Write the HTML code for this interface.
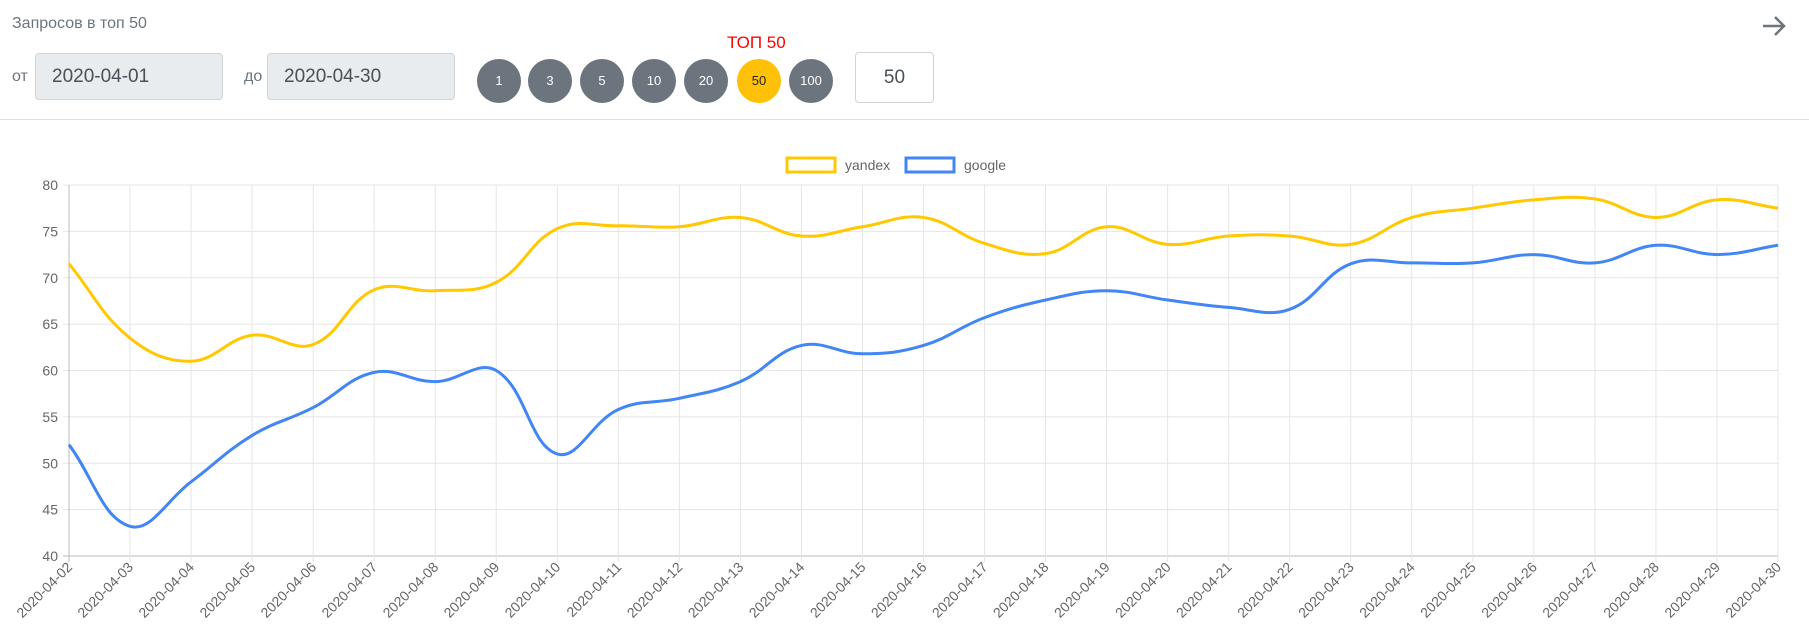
<!DOCTYPE html>
<html><head><meta charset="utf-8"><style>
body{margin:0;width:1809px;height:641px;background:#fff;font-family:"Liberation Sans",sans-serif;position:relative;overflow:hidden}
.a{position:absolute}
.inp{position:absolute;background:#e9ecef;border:1px solid #ced4da;border-radius:4px;box-sizing:border-box;font-size:19px;color:#495057;padding-left:16px;line-height:45px}
.c{position:absolute;width:44px;height:44px;border-radius:50%;background:#6c757d;color:#fff;font-size:13px;text-align:center;line-height:44px;top:59px}
</style></head><body>
<div class="a" style="left:12px;top:15px;font-size:16px;color:#6c757d">Запросов в топ 50</div>
<div class="a" style="left:12px;top:68px;font-size:16px;color:#6c757d">от</div>
<div class="inp" style="left:35px;top:53px;width:188px;height:47px">2020-04-01</div>
<div class="a" style="left:244px;top:68px;font-size:16px;color:#6c757d">до</div>
<div class="inp" style="left:267px;top:53px;width:188px;height:47px">2020-04-30</div>
<div class="a" style="left:727px;top:33px;font-size:17px;color:#f00">ТОП 50</div>
<div class="c" style="left:477px">1</div>
<div class="c" style="left:528px">3</div>
<div class="c" style="left:580px">5</div>
<div class="c" style="left:632px">10</div>
<div class="c" style="left:684px">20</div>
<div class="c" style="left:737px;background:#ffc107;color:#212529">50</div>
<div class="c" style="left:789px">100</div>
<div class="a" style="left:855px;top:52px;width:79px;height:51px;border:1px solid #ced4da;border-radius:4px;box-sizing:border-box;text-align:center;line-height:49px;font-size:19px;color:#495057">50</div>
<svg class="a" style="left:1760px;top:14px" width="28" height="24" viewBox="0 0 28 24"><path d="M3 12H24M15 3L24 12L15 21" fill="none" stroke="#6c757d" stroke-width="2.5"/></svg>
<div class="a" style="left:0;top:119px;width:1809px;height:1px;background:#dee2e6"></div>
<svg id="ch" class="a" style="left:0;top:0" width="1809" height="641"></svg>
<script>
const dates=["2020-04-02","2020-04-03","2020-04-04","2020-04-05","2020-04-06","2020-04-07","2020-04-08","2020-04-09","2020-04-10","2020-04-11","2020-04-12","2020-04-13","2020-04-14","2020-04-15","2020-04-16","2020-04-17","2020-04-18","2020-04-19","2020-04-20","2020-04-21","2020-04-22","2020-04-23","2020-04-24","2020-04-25","2020-04-26","2020-04-27","2020-04-28","2020-04-29","2020-04-30"];
const yandex=[71.5,63.5,61,63.8,62.8,68.7,68.6,69.5,75.3,75.6,75.5,76.5,74.5,75.5,76.5,73.7,72.6,75.5,73.6,74.5,74.5,73.6,76.5,77.5,78.4,78.5,76.5,78.4,77.5];
const google=[52,43.2,48,53,56,59.8,58.8,60,51,55.8,57,58.8,62.7,61.8,62.7,65.7,67.6,68.6,67.6,66.8,66.6,71.5,71.6,71.6,72.5,71.6,73.5,72.5,73.5];
const yTicks=[40,45,50,55,60,65,70,75,80];
const L=69,R=1778,T=185,B=556,yMin=40,yMax=80;
const NS="http://www.w3.org/2000/svg",svg=document.getElementById('ch');
const X=i=>L+(R-L)*i/(dates.length-1), Y=v=>B-(B-T)*(v-yMin)/(yMax-yMin);
function el(t,a){const e=document.createElementNS(NS,t);for(const k in a)e.setAttribute(k,a[k]);svg.appendChild(e);return e;}
yTicks.forEach(v=>{const l=el('line',{x1:L-6,x2:R,y1:Y(v),y2:Y(v),stroke:v===40?'#bbb':'#e5e5e5'});

const t=el('text',{x:L-11,y:Y(v)+5,'text-anchor':'end','font-size':14,fill:'#666','font-family':'Liberation Sans'});t.textContent=v;
});
dates.forEach((d,i)=>{const l=el('line',{x1:X(i),x2:X(i),y1:T,y2:B+6,stroke:i===0?'#bbb':'#e5e5e5'});

const t=el('text',{x:0,y:0,'text-anchor':'end','font-size':14,fill:'#666','font-family':'Liberation Sans',transform:`translate(${X(i)+4},${B+12}) rotate(-45)`});t.textContent=d;
});
function path(vals){const p=vals.map((v,i)=>[X(i),Y(v)]),tn=0.4;let d=`M${p[0][0]},${p[0][1]}`;
const cp=p.map((c,i)=>{const pr=p[Math.max(0,i-1)],nx=p[Math.min(p.length-1,i+1)];
const d01=Math.hypot(c[0]-pr[0],c[1]-pr[1]),d12=Math.hypot(nx[0]-c[0],nx[1]-c[1]);
let fa=d01/(d01+d12)||0,fb=d12/(d01+d12)||0;fa*=tn;fb*=tn;
return{p:[c[0]-fa*(nx[0]-pr[0]),c[1]-fa*(nx[1]-pr[1])],n:[c[0]+fb*(nx[0]-pr[0]),c[1]+fb*(nx[1]-pr[1])]};});
for(let i=1;i<p.length;i++)d+=` C${cp[i-1].n[0]},${cp[i-1].n[1]} ${cp[i].p[0]},${cp[i].p[1]} ${p[i][0]},${p[i][1]}`;return d;}
const ly=el('path',{d:path(yandex),fill:'none',stroke:'#ffc800','stroke-width':3});

const lg=el('path',{d:path(google),fill:'none',stroke:'#4285f4','stroke-width':3});

[['yandex','#ffc800',787],['google','#4285f4',906]].forEach(([n,c,x])=>{
const r=el('rect',{x:x,y:158,width:48,height:14,fill:'#fff',stroke:c,'stroke-width':3});

const t=el('text',{x:x+58,y:170,'font-size':14,fill:'#666','font-family':'Liberation Sans'});t.textContent=n;
});
</script>
</body></html>
